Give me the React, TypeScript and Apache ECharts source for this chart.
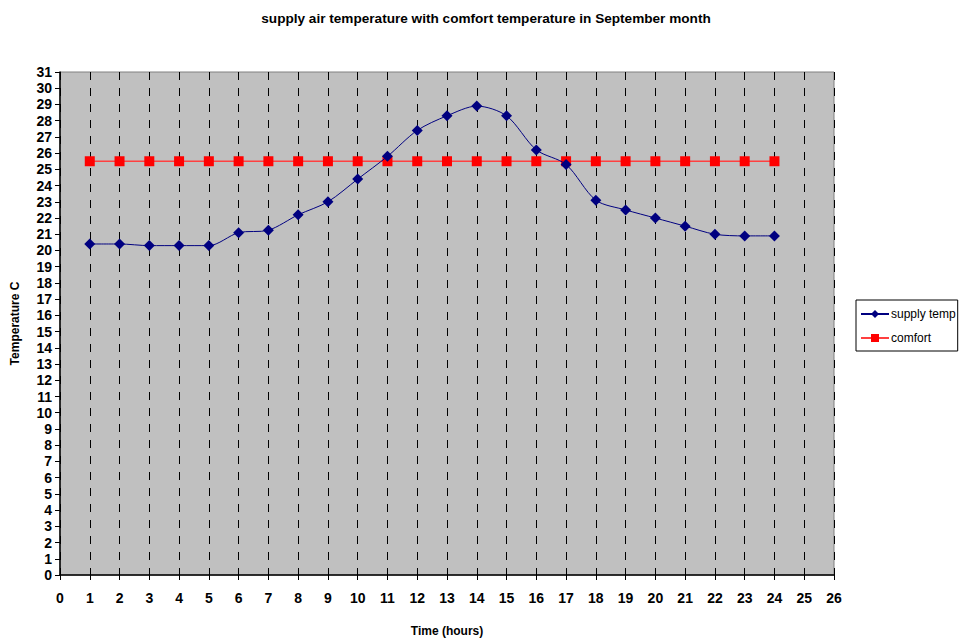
import React, { useEffect, useRef } from "react";
import * as echarts from "echarts";

const hours = [1, 2, 3, 4, 5, 6, 7, 8, 9, 10, 11, 12, 13, 14, 15, 16, 17, 18, 19, 20, 21, 22, 23, 24];
const supplyTemp = [20.4, 20.4, 20.3, 20.3, 20.3, 21.1, 21.25, 22.2, 23.0, 24.4, 25.8, 27.4, 28.3, 28.9, 28.3, 26.2, 25.3, 23.1, 22.5, 22.0, 21.5, 21.0, 20.9, 20.9];
const comfort = [25.5, 25.5, 25.5, 25.5, 25.5, 25.5, 25.5, 25.5, 25.5, 25.5, 25.5, 25.5, 25.5, 25.5, 25.5, 25.5, 25.5, 25.5, 25.5, 25.5, 25.5, 25.5, 25.5, 25.5];

const FONT = "'Liberation Sans', Arial, sans-serif";

export default function App() {
  const ref = useRef<HTMLDivElement>(null);
  useEffect(() => {
    if (!ref.current) return;
    const chart = echarts.init(ref.current, undefined, { renderer: "svg" });
    chart.setOption({
      animation: false,
      backgroundColor: "#ffffff",
      textStyle: { fontFamily: FONT },
      title: {
        text: "supply air temperature with comfort temperature in September month",
        left: 481,
        textAlign: "center",
        top: 6,
        textStyle: { fontFamily: FONT, fontSize: 13.6, fontWeight: "bold", color: "#000" },
      },
      legend: {
        orient: "vertical",
        left: 856,
        top: 300,
        padding: [8, 2, 7, 4],
        itemGap: 12,
        itemWidth: 28,
        itemHeight: 10,
        borderColor: "#000",
        borderWidth: 1,
        borderRadius: 0,
        backgroundColor: "#fff",
        textStyle: { fontFamily: FONT, fontSize: 12, color: "#000", padding: [0, 0, 0, -3] },
        data: ["supply temp", "comfort"],
      },
      grid: {
        left: 60,
        right: 129,
        top: 72,
        bottom: 67,
        show: true,
        backgroundColor: "#c0c0c0",
        borderColor: "#808080",
        borderWidth: 1,
      },
      xAxis: {
        type: "value",
        min: 0,
        max: 26,
        interval: 1,
        name: "Time (hours)",
        nameLocation: "middle",
        nameGap: 50,
        nameTextStyle: { fontFamily: FONT, fontSize: 12, fontWeight: "bold", color: "#000" },
        axisLine: { show: true, lineStyle: { color: "#000", width: 1.5 } },
        axisTick: { show: true, length: 5, lineStyle: { color: "#000" } },
        axisLabel: { fontFamily: FONT, fontSize: 14, fontWeight: "bold", color: "#000", margin: 16 },
        splitLine: { show: true, lineStyle: { color: "#000", type: [8, 8], width: 1 } },
      },
      yAxis: {
        type: "value",
        min: 0,
        max: 31,
        interval: 1,
        name: "Temperature C",
        nameLocation: "middle",
        nameGap: 39,
        nameRotate: 90,
        nameTextStyle: { fontFamily: FONT, fontSize: 12, fontWeight: "bold", color: "#000" },
        axisLine: { show: true, lineStyle: { color: "#000", width: 1.5 } },
        axisTick: { show: true, length: 5, lineStyle: { color: "#000" } },
        axisLabel: { fontFamily: FONT, fontSize: 14, fontWeight: "bold", color: "#000", margin: 8 },
        splitLine: { show: false },
      },
      series: [
        {
          name: "supply temp",
          type: "line",
          data: hours.map((h, i) => [h, supplyTemp[i]]),
          smooth: 0.3,
          symbol: "diamond",
          symbolSize: 11,
          z: 3,
          lineStyle: { color: "#000080", width: 1 },
          itemStyle: { color: "#000080" },
        },
        {
          name: "comfort",
          type: "line",
          data: hours.map((h, i) => [h, comfort[i]]),
          symbol: "rect",
          symbolSize: 10,
          z: 2,
          lineStyle: { color: "#ff4040", width: 1.5 },
          itemStyle: { color: "#ff0000" },
        },
      ],
    });
    return () => chart.dispose();
  }, []);
  return <div ref={ref} style={{ width: 963, height: 642, position: "absolute", left: 0, top: 0 }} />;
}
